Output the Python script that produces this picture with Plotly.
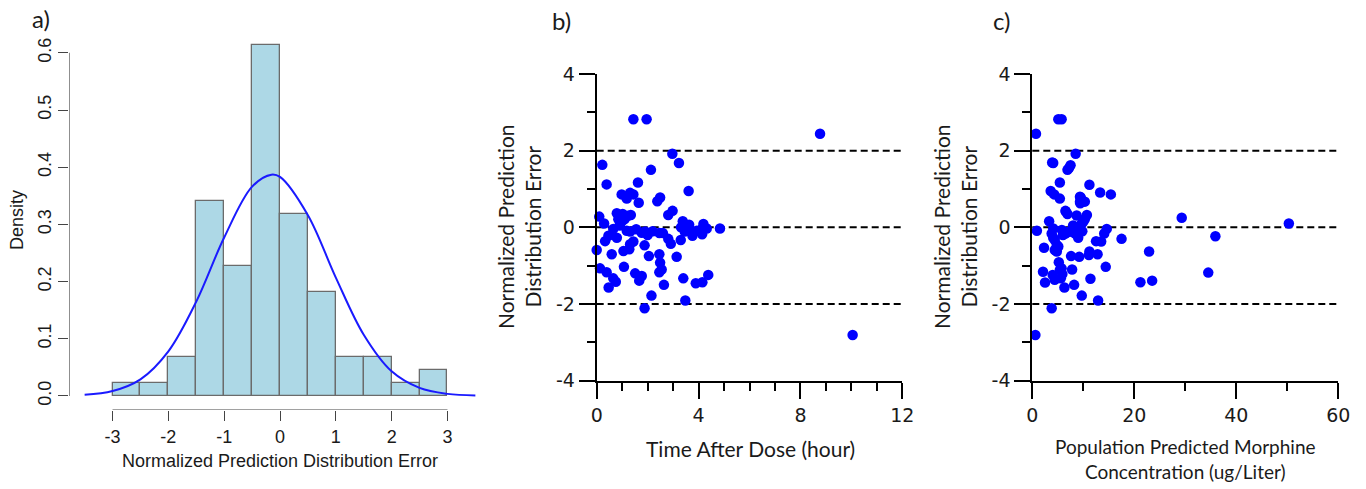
import plotly.graph_objects as go

# ---------------- data ----------------
# panel a: histogram of NPDE (density), bins of width 0.5 from -3 to 3
bin_mid = [-2.75, -2.25, -1.75, -1.25, -0.75, -0.25, 0.25, 0.75, 1.25, 1.75, 2.25, 2.75]
bin_density = [0.0227, 0.0227, 0.068, 0.341, 0.227, 0.614, 0.318, 0.182, 0.068, 0.068, 0.0227, 0.045]
bin_width = 0.5
# fitted normal density curve
curve_x = [-3.5, -3.0, -2.5, -2.0, -1.5, -1.0, -0.5, -0.155, 0.0, 0.5, 1.0, 1.5, 2.0, 2.5, 3.0, 3.5]
curve_y = [0.002, 0.0085, 0.029, 0.078, 0.165, 0.277, 0.366, 0.387, 0.383, 0.316, 0.207, 0.107, 0.043, 0.014, 0.0036, 0.0008]
hist_xticks = [-3, -2, -1, 0, 1, 2, 3]
hist_yticks = [0.0, 0.1, 0.2, 0.3, 0.4, 0.5, 0.6]

# panel b: NPDE vs time after dose
b_time = [1.44, 1.96, 8.77, 2.97, 3.23, 0.22, 2.13, 0.39, 1.62, 3.61,
          0.98, 1.31, 1.44, 1.18, 2.49, 2.38, 1.65, 2.98, 2.81, 0.10,
          0.79, 1.02, 1.34, 0.85, 0.98, 0.29, 3.38, 3.63, 4.19, 0.65,
          1.18, 1.31, 1.77, 1.90, 2.20, 2.46, 3.46, 3.93, 4.32, 4.84,
          4.14, 3.76, 0.46, 0.33, 0.79, 1.44, 1.31, 2.81, 2.91, 3.30,
          1.88, 0.00, 1.05, 1.28, 0.59, 2.05, 2.46, 3.14, 1.07, 2.49,
          0.13, 0.39, 2.55, 2.46, 1.51, 1.77, 1.67, 0.65, 0.75, 0.47,
          2.64, 3.40, 3.89, 4.15, 4.38, 2.15, 3.48, 1.88, 10.05,
          1.10, 0.90, 1.55, 2.00, 3.60, 3.31, 4.12, 1.23, 2.60]
b_npde = [2.82, 2.82, 2.44, 1.92, 1.68, 1.63, 1.50, 1.12, 1.17, 0.95,
          0.86, 0.90, 0.86, 0.75, 0.78, 0.68, 0.64, 0.43, 0.32, 0.28,
          0.37, 0.35, 0.32, 0.21, 0.15, 0.10, 0.16, 0.07, 0.09, -0.04,
          -0.09, -0.11, -0.14, -0.11, -0.10, -0.15, -0.11, -0.09, -0.03, -0.03,
          -0.18, -0.22, -0.22, -0.36, -0.27, -0.37, -0.44, -0.30, -0.43, -0.33,
          -0.47, -0.59, -0.62, -0.57, -0.70, -0.75, -0.70, -0.77, -1.03, -0.92,
          -1.07, -1.17, -1.10, -1.17, -1.20, -1.27, -1.39, -1.33, -1.42, -1.57,
          -1.50, -1.33, -1.46, -1.43, -1.24, -1.78, -1.91, -2.11, -2.81,
          0.22, 0.05, -0.05, -0.20, 0.00, 0.00, -0.05, 0.30, -0.15]

# panel c: NPDE vs population predicted concentration
c_conc = [0.72, 5.1, 5.75, 8.5, 4.1, 7.5, 6.9, 5.4, 11.2, 3.6,
          4.3, 5.4, 13.3, 15.4, 9.5, 9.7, 10.3, 9.4, 6.5, 6.9,
          8.7, 10.7, 10.3, 9.7, 29.3, 50.3, 3.3, 0.9, 4.1, 3.8,
          4.1, 4.4, 4.8, 5.8, 6.5, 7.4, 8.0, 8.7, 8.4, 9.2,
          9.0, 14.6, 14.1, 12.5, 13.5, 17.5, 35.9, 2.3, 4.4, 5.1,
          4.8, 7.6, 9.2, 11.2, 11.1, 12.8, 22.9, 5.2, 5.75, 5.4,
          7.8, 14.4, 2.1, 4.0, 4.4, 5.9, 5.6, 11.4, 34.5, 2.5,
          6.3, 8.2, 21.2, 23.5, 9.7, 12.9, 3.8, 0.6,
          7.0, 9.35, 9.35, 6.0, 8.0, 10.0, 3.9, 7.2, 9.8, 6.6]
c_npde = [2.44, 2.82, 2.82, 1.92, 1.68, 1.62, 1.50, 1.17, 1.11, 0.95,
          0.86, 0.75, 0.91, 0.86, 0.78, 0.71, 0.67, 0.63, 0.43, 0.35,
          0.31, 0.32, 0.21, 0.10, 0.25, 0.10, 0.16, -0.09, -0.03, -0.16,
          -0.27, -0.33, -0.46, -0.07, -0.16, -0.11, -0.07, -0.03, -0.16, 0.02,
          -0.27, -0.04, -0.16, -0.36, -0.37, -0.30, -0.23, -0.53, -0.59, -0.50,
          -0.63, -0.75, -0.77, -0.63, -0.72, -0.70, -0.63, -0.91, -1.07, -1.11,
          -1.10, -1.03, -1.16, -1.24, -1.37, -1.22, -1.33, -1.34, -1.18, -1.44,
          -1.57, -1.50, -1.43, -1.39, -1.78, -1.91, -2.11, -2.81,
          -0.12, 0.67, 0.80, -0.20, 0.05, 0.15, 1.69, 1.55, -0.10, 0.41]

ref_lines = [-2, 0, 2]
npde_ticks = [-4, -2, 0, 2, 4]
time_ticks = [0, 4, 8, 12]
conc_ticks = [0, 20, 40, 60]

# ---------------- figure ----------------
W, H = 1366, 489
def px(x):
    return x / W
def py(y):
    return 1 - y / H

R_FONT = "Liberation Sans, Arial, sans-serif"
T_FONT = "Lato, Open Sans, sans-serif"
N_FONT = "DejaVu Sans, Verdana, sans-serif"

def lbl(v):
    return str(v)  # ASCII hyphen-minus, as in the reference

fig = go.Figure()

fig.add_trace(go.Bar(x=bin_mid, y=bin_density, width=bin_width,
                     marker=dict(color="#ADD8E6", line=dict(color="#6b6b6b", width=1.3)),
                     xaxis="x", yaxis="y", showlegend=False))
fig.add_trace(go.Scatter(x=curve_x, y=curve_y, mode="lines", line=dict(color="#1a1aff", width=2, shape="spline"),
                         xaxis="x", yaxis="y", showlegend=False))

fig.add_trace(go.Scatter(x=b_time, y=b_npde, mode="markers",
                         marker=dict(color="#0000ff", size=10.5, line=dict(width=0)),
                         cliponaxis=False, xaxis="x2", yaxis="y2", showlegend=False))
fig.add_trace(go.Scatter(x=c_conc, y=c_npde, mode="markers",
                         marker=dict(color="#0000ff", size=10.5, line=dict(width=0)),
                         cliponaxis=False, xaxis="x3", yaxis="y3", showlegend=False))

xa_min, xa_max = -3.78, 3.78
ya_min, ya_max = -0.0246, 0.64

layout = dict(
    width=W, height=H, margin=dict(l=0, r=0, t=0, b=0, autoexpand=False),
    paper_bgcolor="white", plot_bgcolor="white", showlegend=False, bargap=0,
    xaxis=dict(domain=[px(69), px(491)], range=[xa_min, xa_max], showgrid=False, zeroline=False,
               showline=False, tickmode="array", tickvals=hist_xticks, ticktext=[lbl(v) for v in hist_xticks],
               ticks="outside", ticklen=10,
               tickcolor="#444", tickwidth=1.2, tickfont=dict(family=R_FONT, size=18, color="#1a1a1a"),
               anchor="y", automargin=False),
    yaxis=dict(domain=[py(410), py(30)], range=[ya_min, ya_max], showgrid=False, zeroline=False,
               showline=False, tickmode="array", tickvals=hist_yticks, ticktext=[f"{v:.1f}" for v in hist_yticks],
               ticks="outside", ticklen=10, tickcolor="#444", tickwidth=1.2, tickangle=-90,
               tickfont=dict(family=R_FONT, size=18, color="#1a1a1a"), anchor="x", automargin=False),
)

def scatter_axes(xdom, xrange_, xticks, minor_dx):
    xa = dict(domain=xdom, range=xrange_, showgrid=False, zeroline=False, showline=True,
              linecolor="black", linewidth=2, tickmode="array", tickvals=xticks,
              ticktext=[lbl(v) for v in xticks], ticks="outside",
              ticklen=16, tickwidth=1.5, tickcolor="black", automargin=False,
              tickfont=dict(family=N_FONT, size=19, color="#1a1a1a"),
              minor=dict(ticks="outside", ticklen=8, tickwidth=1.5, tickcolor="black", dtick=minor_dx,
                         showgrid=False))
    ya = dict(domain=[py(380.7), py(74)], range=[-4, 4], showgrid=False, zeroline=False, showline=True,
              linecolor="black", linewidth=2, tickmode="array", tickvals=npde_ticks,
              ticktext=[lbl(v) for v in npde_ticks], ticks="outside",
              ticklen=16, tickwidth=1.5, tickcolor="black", automargin=False,
              tickfont=dict(family=N_FONT, size=19, color="#1a1a1a"),
              minor=dict(ticks="outside", ticklen=8, tickwidth=1.5, tickcolor="black", dtick=1,
                         showgrid=False))
    return xa, ya

xa2, ya2 = scatter_axes([px(596.7), px(902.3)], [0, 12], time_ticks, 1)
xa3, ya3 = scatter_axes([px(1032.3), px(1338.3)], [0, 60], conc_ticks, 10)
xa2["anchor"] = "y2"; ya2["anchor"] = "x2"
xa3["anchor"] = "y3"; ya3["anchor"] = "x3"
layout.update(xaxis2=xa2, yaxis2=ya2, xaxis3=xa3, yaxis3=ya3)
fig.update_layout(**layout)

# R-style detached axis lines for panel a
shapes = [
    dict(type="line", xref="x", yref="y", x0=hist_xticks[0], x1=hist_xticks[-1], y0=ya_min, y1=ya_min,
         line=dict(color="#444", width=1.2)),
    dict(type="line", xref="x", yref="y", x0=xa_min, x1=xa_min, y0=hist_yticks[0], y1=hist_yticks[-1],
         line=dict(color="#444", width=1.2)),
]
for ax in ["2", "3"]:
    for v in ref_lines:
        shapes.append(dict(type="line", xref=f"x{ax} domain", yref=f"y{ax}", x0=0, x1=1, y0=v, y1=v,
                           line=dict(color="black", width=2, dash="7px,4px"), layer="below"))
fig.update_layout(shapes=shapes)

ann = []
def add_text(text, x, y, size, family, angle=0, color="#1a1a1a"):
    ann.append(dict(text=text, x=px(x), y=py(y), xref="paper", yref="paper", showarrow=False,
                    xanchor="center", yanchor="middle", textangle=angle,
                    font=dict(family=family, size=size, color=color)))

add_text("a)", 41, 18, 24, T_FONT)
add_text("b)", 561, 20, 24, T_FONT)
add_text("c)", 1001, 20, 24, T_FONT)
add_text("Density", 17, 220, 18, R_FONT, angle=-90)
add_text("Normalized Prediction Distribution Error", 280, 461, 18, R_FONT)
add_text("Normalized Prediction<br>Distribution Error", 519, 227, 21, T_FONT, angle=-90)
add_text("Normalized Prediction<br>Distribution Error", 955, 227, 21, T_FONT, angle=-90)
add_text("Time After Dose (hour)", 750, 448, 21, T_FONT)
add_text("Population Predicted Morphine<br>Concentration (ug/Liter)", 1185, 459, 19, T_FONT)
fig.update_layout(annotations=ann)

fig.write_html("out.html", config={"displayModeBar": False},
               post_script="document.body.style.margin='0';document.body.style.padding='0';"
                           "document.body.style.overflow='hidden';")
